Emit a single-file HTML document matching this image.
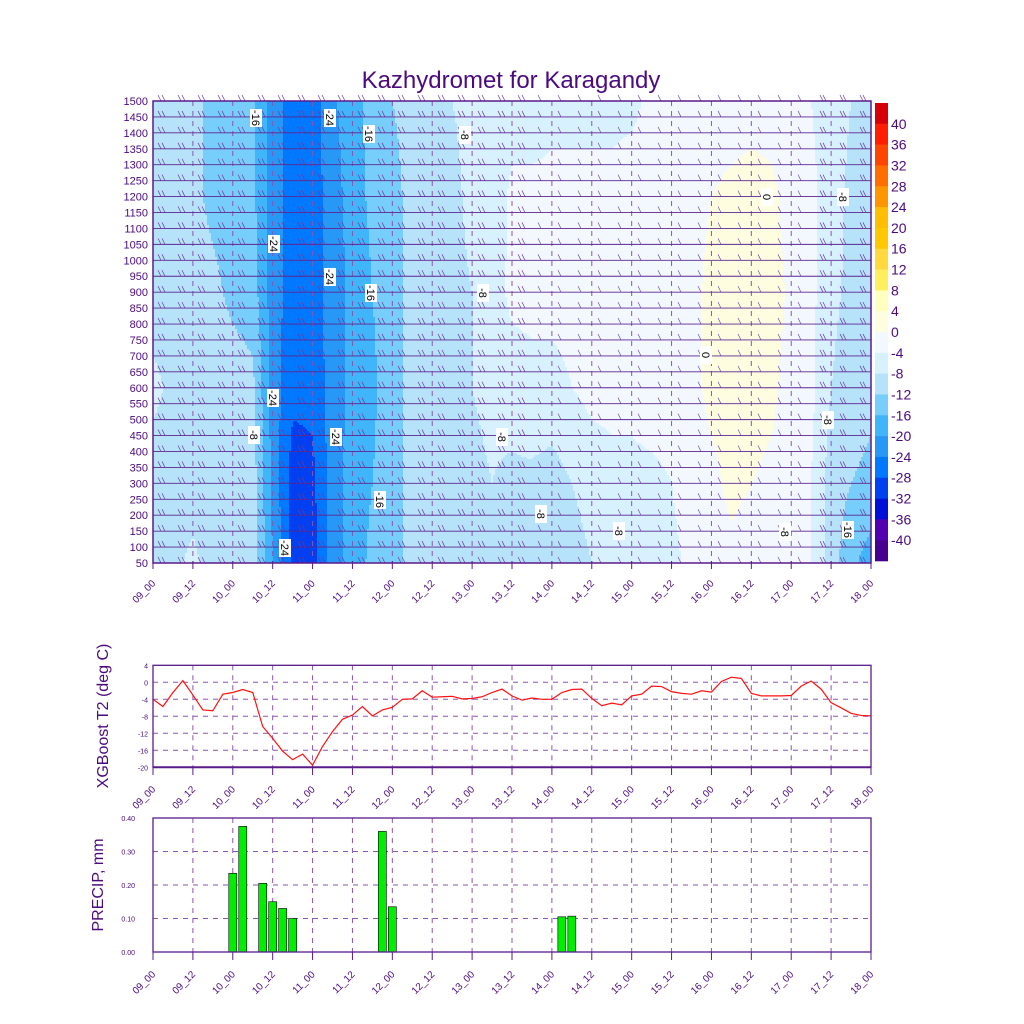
<!DOCTYPE html>
<html><head><meta charset="utf-8"><style>
html,body{margin:0;padding:0;background:#fff;}
svg{display:block;font-family:"Liberation Sans",sans-serif;}
</style></head><body>
<svg id="s" width="1024" height="1024" viewBox="0 0 1024 1024" xmlns="http://www.w3.org/2000/svg">
<text x="511" y="88" font-size="24" fill="#4b0a7d" text-anchor="middle">Kazhydromet for Karagandy</text>
<g id="contour"></g>
<g id="t2"></g>
<g id="pr"></g>
</svg>
<script>
const timeLabels=["09_00","09_12","10_00","10_12","11_00","11_12","12_00","12_12","13_00","13_12","14_00","14_12","15_00","15_12","16_00","16_12","17_00","17_12","18_00"];
const levels=[50,300,600,900,1200,1500];
const tempGrid=[
[-9,-10,-7,-10,-10,-10],[-9,-10,-9,-10,-10,-10],[-7,-10,-10,-10,-11,-11],[-10,-10,-10,-11,-13,-13],
[-10,-10,-10,-13,-14,-14],[-10,-10,-11,-14,-15,-15],[-20,-21,-22,-22,-22,-22],[-29,-30,-27,-26,-26,-26],
[-30,-29,-27,-26,-26,-26],[-22,-22,-22,-22,-22,-21],[-18,-18,-19,-19,-18,-17],[-15,-16,-17,-16,-15,-15],
[-13,-13,-13,-13,-13,-12],[-11,-11,-11,-11,-11,-11],[-10,-10,-10,-10,-10,-9],[-10,-9,-9,-9,-9,-8],
[-10,-9,-8,-8,-7,-7],[-9,-8,-7,-6,-7,-7],[-10,-9,-6,-3,-3,-6],[-11,-9,-5,-3,-3,-6],
[-12,-10,-5,-3,-3,-5],[-10,-8,-4,-3,-3,-5],[-8,-6,-3,-3,-3,-5],[-7,-5,-3,-3,-3,-5],
[-6,-5,-3,-3,-2,-5],[-6,-5,-2,-2,-2,-3],[-5,-4,-2,-2,-2,-2],[-3,-2,-1,-1,-1,-2],
[-2,-1,1,1,0,-2],[-1,1,2,2,1,-2],[-2,0,2,2,2,-2],[-2,-1,1,2,1,-2],
[-3,-2,-2,-1,-2,-3],[-4,-4,-3,-3,-3,-4],[-10,-10,-8,-7,-6,-6],[-15,-12,-10,-9,-9,-8],[-18,-13,-11,-10,-10,-9]];
const t2Values=[-4,-5.7,-2.4,0.4,-3,-6.5,-6.7,-2.8,-2.4,-1.7,-2.4,-10.4,-13.2,-16.2,-18.2,-16.9,-19.5,-15.1,-11.6,-8.7,-7.7,-5.7,-7.9,-6.5,-5.9,-4,-3.9,-2,-3.5,-3.4,-3.3,-3.9,-3.8,-3.4,-2.4,-1.6,-3.2,-4.2,-3.7,-4,-4,-2.4,-1.7,-1.6,-3.8,-5.5,-4.9,-5.3,-3.2,-2.8,-0.9,-1,-2.2,-2.6,-2.8,-2,-2.3,0.2,1.2,0.9,-2.6,-3.2,-3.2,-3.2,-3.1,-0.9,0.3,-1.6,-4.8,-6,-7.3,-7.8,-7.9];
const precipIdx=[8,9,11,12,13,14,23,24,41,42];
const precipVals=[0.235,0.375,0.205,0.15,0.13,0.10,0.36,0.135,0.105,0.107];
const cbLabels=["40","36","32","28","24","20","16","12","8","4","0","-4","-8","-12","-16","-20","-24","-28","-32","-36","-40"];
const cbColors=["#d60008","#ff1e00","#ff4600","#ff6e00","#ff9600","#ffbe00","#ffc800","#ffd93d","#ffee5e","#ffffbe","#fffde0","#f3f8ff","#d8f1ff","#b6e3fa","#78cefa","#40b5fa","#2898f6","#0078ff","#0040f0","#0010d6","#5200b0","#48008e"];
const cLabels=[[256,118,"-16"],[330,118,"-24"],[369,134,"-16"],[465,135,"-8"],[274,244,"-24"],[330,277,"-24"],[371,293,"-16"],[483,293,"-8"],[273,398,"-24"],[254,435,"-8"],[336,437,"-24"],[502,437,"-8"],[380,500,"-16"],[541,514,"-8"],[619,531,"-8"],[285,548,"-24"],[785,532,"-8"],[848,530,"-16"],[767,197,"0"],[706,355,"0"],[843,197,"-8"],[828,420,"-8"]];

const NS="http://www.w3.org/2000/svg", PUR="#4b0a7d", AX="#5a1a8a";
function mk(p,tag,attrs){const e=document.createElementNS(NS,tag);for(const k in attrs)e.setAttribute(k,attrs[k]);p.appendChild(e);return e;}
const X0=153,X1=871;
const xT=h=>X0+(X1-X0)*h/216;
const C=document.getElementById('contour');
const PY0=101,PY1=563;
const yP=p=>PY1-(p-50)/1450*(PY1-PY0);
function colorFor(v){let k=Math.floor(v/4);let idx=10-k;idx=Math.max(0,Math.min(21,idx));return cbColors[idx];}
function val(h,p){const c=h/6;let i=Math.min(Math.floor(c),tempGrid.length-2);const fx=c-i;
 let j=0;while(j<levels.length-2&&p>levels[j+1])j++;const fy=(p-levels[j])/(levels[j+1]-levels[j]);
 const a=tempGrid[i][j]*(1-fx)+tempGrid[i+1][j]*fx,b=tempGrid[i][j+1]*(1-fx)+tempGrid[i+1][j+1]*fx;return a*(1-fy)+b*fy;}
const fill=mk(C,'g',{});
for(let y=PY0;y<PY1;y+=2){const p=50+(PY1-(y+1))/(PY1-PY0)*1450;let start=X0,cur=null;
 for(let x=X0;x<=X1;x+=2){const col=x<X1?colorFor(val((x+1-X0)/(X1-X0)*216,p)):null;
  if(col!==cur){if(cur)mk(fill,'rect',{x:start,y:y,width:x-start+0.5,height:2.5,fill:cur});cur=col;start=x;}}}
for(let i=1;i<18;i++){const l=mk(C,'line',{x1:xT(i*12),x2:xT(i*12),y1:PY0,y2:PY1,stroke:"#8a55b0","stroke-width":1,"stroke-dasharray":"5,5"});
 }
const wb=mk(C,'g',{stroke:"#6a3a9e","stroke-width":0.7});
for(let p=50;p<=1500;p+=50){const y=yP(p);mk(wb,'line',{x1:X0,x2:X1,y1:y,y2:y,"stroke-width":0.9,stroke:"#5b2590"});
 for(let x=X0+5;x<X1-4;x+=20){if(x<520){mk(wb,'line',{x1:x,y1:y-6,x2:x+3,y2:y});mk(wb,'line',{x1:x+4,y1:y-6,x2:x+7,y2:y});}
  else if(x>800){mk(wb,'line',{x1:x+2,y1:y-6,x2:x+5,y2:y});mk(wb,'line',{x1:x+5,y1:y-6,x2:x+8,y2:y});}
  else mk(wb,'line',{x1:x,y1:y-6,x2:x+3,y2:y,"stroke-width":0.6});}}
cLabels.forEach(l=>{const g=mk(C,'g',{transform:`translate(${l[0]},${l[1]}) rotate(90)`});
 
 mk(g,'rect',{x:-9,y:-6,width:18,height:12,fill:"#fff"});const t=mk(g,'text',{x:0,y:4,"font-size":11,"text-anchor":"middle",fill:"#000"});t.textContent=l[2];});
mk(C,'rect',{x:X0,y:PY0,width:X1-X0,height:PY1-PY0,fill:"none",stroke:AX,"stroke-width":1.5});
for(let p=50;p<=1500;p+=50){const t=mk(C,'text',{x:148,y:yP(p)+4,"font-size":11,"text-anchor":"end",fill:PUR});t.textContent=p;
 }
function xLabels(g,y){timeLabels.forEach((s,i)=>{const x=xT(i*12);mk(g,'line',{x1:x,x2:x,y1:y-23,y2:y-15,stroke:AX});
 const t=mk(g,'text',{transform:`translate(${x+3},${y}) rotate(-45)`,"font-size":10,"text-anchor":"end",fill:PUR});t.textContent=s;
 });}
xLabels(C,584);
const cb=mk(C,'g',{});
const cbT=103,cbH=(561-103)/22;
cbColors.forEach((c,i)=>mk(cb,'rect',{x:875,y:cbT+i*cbH,width:13,height:cbH+0.3,fill:c}));
cbLabels.forEach((s,i)=>{const t=mk(cb,'text',{x:891,y:cbT+(i+1)*cbH+5,"font-size":14,fill:PUR});t.textContent=s;});
const T=document.getElementById('t2');const TY0=665.3,TY1=767.3;const yT=v=>682.3-v*4.25;
for(let v=-16;v<=0;v+=4)mk(T,'line',{x1:X0,x2:X1,y1:yT(v),y2:yT(v),stroke:"#8a55b0","stroke-dasharray":"5,5"});
for(let i=1;i<18;i++)mk(T,'line',{x1:xT(i*12),x2:xT(i*12),y1:TY0,y2:TY1,stroke:"#8a55b0","stroke-dasharray":"5,5"});
const tl=mk(T,'polyline',{points:t2Values.map((v,i)=>xT(i*3)+","+yT(v)).join(" "),fill:"none",stroke:"#ff1010","stroke-width":1.2});

mk(T,'rect',{x:X0,y:TY0,width:X1-X0,height:TY1-TY0,fill:"none",stroke:AX,"stroke-width":1.3});
mk(T,'line',{x1:X0,x2:X1,y1:TY1,y2:TY1,stroke:AX,"stroke-width":2});
for(let v=-20;v<=4;v+=4){const t=mk(T,'text',{x:148,y:yT(v)+3,"font-size":7,"text-anchor":"end",fill:PUR});t.textContent=v;}
const tt=mk(T,'text',{transform:"translate(108,716) rotate(-90)","font-size":16,"text-anchor":"middle",fill:PUR});tt.textContent="XGBoost T2 (deg C)";

xLabels(T,790);
const P=document.getElementById('pr');const PP0=818,PP1=952;const yR=v=>PP1-v/0.4*(PP1-PP0);
for(let v=0.1;v<0.4;v+=0.1)mk(P,'line',{x1:X0,x2:X1,y1:yR(v),y2:yR(v),stroke:"#8a55b0","stroke-dasharray":"5,5"});
for(let i=1;i<18;i++)mk(P,'line',{x1:xT(i*12),x2:xT(i*12),y1:PP0,y2:PP1,stroke:"#8a55b0","stroke-dasharray":"5,5"});
precipIdx.forEach((k,i)=>{const x=xT(k*3);const r=mk(P,'rect',{x:x-4,y:yR(precipVals[i]),width:8,height:PP1-yR(precipVals[i]),fill:"#00ee00",stroke:"#000","stroke-width":0.6});
 });
mk(P,'rect',{x:X0,y:PP0,width:X1-X0,height:PP1-PP0,fill:"none",stroke:AX,"stroke-width":1.3});
["0.00","0.10","0.20","0.30","0.40"].forEach((s,i)=>{const t=mk(P,'text',{x:135,y:yR(i*0.1)+3,"font-size":7,"text-anchor":"end",fill:PUR});t.textContent=s;});
const pt=mk(P,'text',{transform:"translate(103,885) rotate(-90)","font-size":16,"text-anchor":"middle",fill:PUR});pt.textContent="PRECIP, mm";

xLabels(P,975);
</script>
</body></html>
